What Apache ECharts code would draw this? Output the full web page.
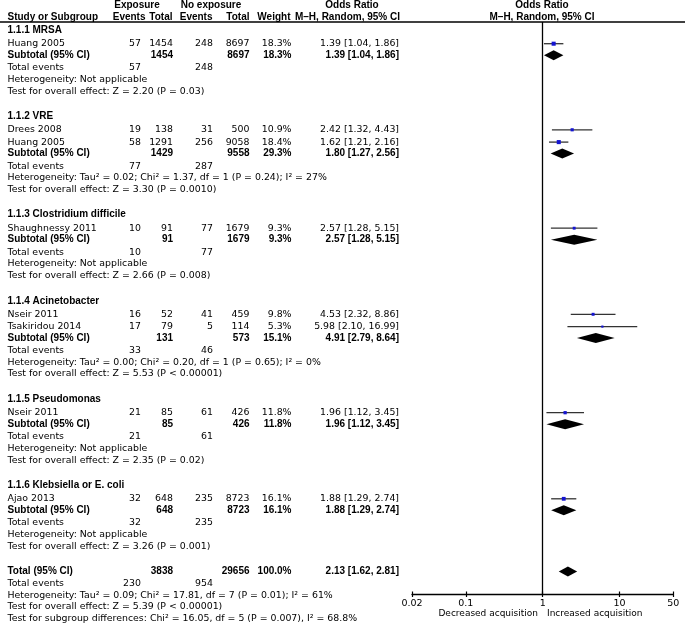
<!DOCTYPE html>
<html>
<head>
<meta charset="utf-8">
<script src="https://cdn.jsdelivr.net/npm/echarts@6/dist/echarts.min.js"></script>
<style>
html,body{margin:0;padding:0;background:#fff;}
#chart{width:685px;height:626px;}
</style>
</head>
<body>
<div id="chart"></div>
<script>
// ---------- DATA ----------
const groupNames = ['1.1.1 MRSA','1.1.2 VRE','1.1.3 Clostridium difficile','1.1.4 Acinetobacter','1.1.5 Pseudomonas','1.1.6 Klebsiella or E. coli'];

const studyNames      = ['Huang 2005','Drees 2008','Huang 2005','Shaughnessy 2011','Nseir 2011','Tsakiridou 2014','Nseir 2011','Ajao 2013'];
const studyGroup      = [0,1,1,2,3,3,4,5];
const studyExpEvents  = [57,19,58,10,16,17,21,32];
const studyExpTotal   = [1454,138,1291,91,52,79,85,648];
const studyCtlEvents  = [248,31,256,77,41,5,61,235];
const studyCtlTotal   = [8697,500,9058,1679,459,114,426,8723];
const studyWeight     = [18.3,10.9,18.4,9.3,9.8,5.3,11.8,16.1];
const studyOR         = [1.39,2.42,1.62,2.57,4.53,5.98,1.96,1.88];
const studyLo         = [1.04,1.32,1.21,1.28,2.32,2.10,1.12,1.29];
const studyHi         = [1.86,4.43,2.16,5.15,8.86,16.99,3.45,2.74];

const subExpEvents = [57,77,10,33,21,32];
const subExpTotal  = [1454,1429,91,131,85,648];
const subCtlEvents = [248,287,77,46,61,235];
const subCtlTotal  = [8697,9558,1679,573,426,8723];
const subWeight    = [18.3,29.3,9.3,15.1,11.8,16.1];
const subOR        = [1.39,1.80,2.57,4.91,1.96,1.88];
const subLo        = [1.04,1.27,1.28,2.79,1.12,1.29];
const subHi        = [1.86,2.56,5.15,8.64,3.45,2.74];
const subHet = ['Not applicable','Tau\u00b2 = 0.02; Chi\u00b2 = 1.37, df = 1 (P = 0.24); I\u00b2 = 27%','Not applicable','Tau\u00b2 = 0.00; Chi\u00b2 = 0.20, df = 1 (P = 0.65); I\u00b2 = 0%','Not applicable','Not applicable'];
const subZ   = ['Z = 2.20 (P = 0.03)','Z = 3.30 (P = 0.0010)','Z = 2.66 (P = 0.008)','Z = 5.53 (P < 0.00001)','Z = 2.35 (P = 0.02)','Z = 3.26 (P = 0.001)'];

const totalExpTotal = 3838, totalCtlTotal = 29656, totalWeight = 100.0;
const totalOR = 2.13, totalLo = 1.62, totalHi = 2.81;
const totalExpEvents = 230, totalCtlEvents = 954;
const totalHet = 'Tau\u00b2 = 0.09; Chi\u00b2 = 17.81, df = 7 (P = 0.01); I\u00b2 = 61%';
const totalZ = 'Z = 5.39 (P < 0.00001)';
const subgroupDiff = 'Chi\u00b2 = 16.05, df = 5 (P = 0.007), I\u00b2 = 68.8%';

const tickValues = [0.02,0.1,1,10,50];
const tickLabels = ['0.02','0.1','1','10','50'];
const leftLabel = 'Decreased acquisition';
const rightLabel = 'Increased acquisition';

// ---------- LAYOUT ----------
const REG_FAMILY = '"DejaVu Sans", Verdana, sans-serif';
const BOLD_FAMILY = '"Liberation Sans", Arial, sans-serif';
const REG = '9.4px ' + REG_FAMILY;
const BOLD = 'bold 10px ' + BOLD_FAMILY;
const SMALL = '9px ' + REG_FAMILY;

const COL_NAME = 7.5, COL_EE = 141, COL_ET = 173, COL_CE = 213, COL_CT = 249.5, COL_W = 291.5, COL_OR = 399;
const PLOT_TOP = 22, AXIS_Y = 594;

const Y_START = 30.2, HDR_TO_STUDY = 13.5, STUDY_PITCH = 12.3, STUDY_TO_SUB = 11.5, SUB_TO_TE = 12.5, LINE = 11.7, SECTION_GAP = 25.2;

const fmt2 = v => v.toFixed(2);
const orText = (o,l,h) => `${fmt2(o)} [${fmt2(l)}, ${fmt2(h)}]`;
const wText = w => w.toFixed(1) + '%';

const texts = [];
function t(x, y, s, align, bold, font){
  const f = font || (bold?BOLD:REG);
  texts.push({type:'text', x:x, y:y, silent:true, style:{text:String(s), font:f, fill:'#000',
    align:align, textAlign:align, verticalAlign:'middle', textVerticalAlign:'middle'}});
}

const studyRows = [];   // [or, lo, hi, y, weight]
const diamondRows = []; // [or, lo, hi, y]

let y = Y_START;
for (let g = 0; g < groupNames.length; g++) {
  t(COL_NAME, y, groupNames[g], 'left', true);
  y += HDR_TO_STUDY;
  const idx = studyGroup.map((gg,i)=>gg===g?i:-1).filter(i=>i>=0);
  idx.forEach((i,k) => {
    if (k>0) y += STUDY_PITCH;
    t(COL_NAME, y, studyNames[i], 'left', false);
    t(COL_EE, y, studyExpEvents[i], 'right', false);
    t(COL_ET, y, studyExpTotal[i], 'right', false);
    t(COL_CE, y, studyCtlEvents[i], 'right', false);
    t(COL_CT, y, studyCtlTotal[i], 'right', false);
    t(COL_W, y, wText(studyWeight[i]), 'right', false);
    t(COL_OR, y, orText(studyOR[i], studyLo[i], studyHi[i]), 'right', false);
    studyRows.push([studyOR[i], studyLo[i], studyHi[i], y, studyWeight[i]]);
  });
  y += STUDY_TO_SUB;
  t(COL_NAME, y, 'Subtotal (95% CI)', 'left', true);
  t(COL_ET, y, subExpTotal[g], 'right', true);
  t(COL_CT, y, subCtlTotal[g], 'right', true);
  t(COL_W, y, wText(subWeight[g]), 'right', true);
  t(COL_OR, y, orText(subOR[g], subLo[g], subHi[g]), 'right', true);
  diamondRows.push([subOR[g], subLo[g], subHi[g], y]);
  y += SUB_TO_TE;
  t(COL_NAME, y, 'Total events', 'left', false);
  t(COL_EE, y, subExpEvents[g], 'right', false);
  t(COL_CE, y, subCtlEvents[g], 'right', false);
  y += LINE;
  t(COL_NAME, y, 'Heterogeneity: ' + subHet[g], 'left', false);
  y += LINE;
  t(COL_NAME, y, 'Test for overall effect: ' + subZ[g], 'left', false);
  y += SECTION_GAP;
}
// overall
t(COL_NAME, y, 'Total (95% CI)', 'left', true);
t(COL_ET, y, totalExpTotal, 'right', true);
t(COL_CT, y, totalCtlTotal, 'right', true);
t(COL_W, y, wText(totalWeight), 'right', true);
t(COL_OR, y, orText(totalOR, totalLo, totalHi), 'right', true);
diamondRows.push([totalOR, totalLo, totalHi, y]);
y += 12.3;
t(COL_NAME, y, 'Total events', 'left', false);
t(COL_EE, y, totalExpEvents, 'right', false);
t(COL_CE, y, totalCtlEvents, 'right', false);
y += 11.6;
t(COL_NAME, y, 'Heterogeneity: ' + totalHet, 'left', false);
y += 11.6;
t(COL_NAME, y, 'Test for overall effect: ' + totalZ, 'left', false);
y += 11.6;
t(COL_NAME, y, 'Test for subgroup differences: ' + subgroupDiff, 'left', false);

// headers
t(137, 5.5, 'Exposure', 'center', true);
t(211, 5.5, 'No exposure', 'center', true);
t(352, 5.5, 'Odds Ratio', 'center', true);
t(542, 5.5, 'Odds Ratio', 'center', true);
t(COL_NAME, 16.8, 'Study or Subgroup', 'left', true);
t(145.5, 16.8, 'Events', 'right', true);
t(172.5, 16.8, 'Total', 'right', true);
t(212.5, 16.8, 'Events', 'right', true);
t(249.5, 16.8, 'Total', 'right', true);
t(290.5, 16.8, 'Weight', 'right', true);
t(400, 16.8, 'M\u2013H, Random, 95% CI', 'right', true);
t(542, 16.8, 'M\u2013H, Random, 95% CI', 'center', true);
// direction labels
t(538, 614, leftLabel, 'right', false, SMALL);
t(547, 614, rightLabel, 'left', false, SMALL);

const graphics = texts.concat([
  {type:'line', silent:true, shape:{x1:0, y1:PLOT_TOP, x2:685, y2:PLOT_TOP}, style:{stroke:'#000', lineWidth:1.5}}
]);

const SQUARE_K = 0.95, DIAMOND_H = 5;

const chart = echarts.init(document.getElementById('chart'), null, {renderer:'canvas'});
chart.setOption({
  animation:false,
  backgroundColor:'#fff',
  grid:{left:412, right:685-673.3, top:PLOT_TOP, bottom:626-AXIS_Y, containLabel:false},
  xAxis:[{
    type:'log', min:0.02, max:50, position:'bottom',
    axisLine:{show:true, lineStyle:{color:'#000', width:1.3}},
    axisTick:{show:true, inside:false, length:3, customValues:tickValues, lineStyle:{color:'#000', width:1.2}},
    axisLabel:{show:true, customValues:tickValues, margin:4.5, color:'#000', fontSize:9.5, fontFamily:REG_FAMILY,
      formatter:function(v){ const i = tickValues.findIndex(tv=>Math.abs(tv-v)/tv<1e-6); return i>=0?tickLabels[i]:''; }},
    splitLine:{show:false}, minorTick:{show:false}
  },{
    type:'log', min:0.02, max:50, position:'bottom',
    axisLine:{show:false},
    axisTick:{show:true, inside:true, length:2.5, customValues:tickValues, lineStyle:{color:'#000', width:1.2}},
    axisLabel:{show:false}, splitLine:{show:false}
  }],
  yAxis:{type:'value', min:PLOT_TOP, max:AXIS_Y, inverse:true, show:false, splitLine:{show:false}},
  graphic:graphics,
  series:[
    {
      type:'custom', name:'studies', xAxisIndex:0, yAxisIndex:0,
      data: studyRows, encode:{x:[0,1,2], y:3}, clip:false,
      renderItem:function(params, api){
        const yv = api.value(3);
        const lo = api.coord([api.value(1), yv]);
        const hi = api.coord([api.value(2), yv]);
        const c = api.coord([api.value(0), yv]);
        const s = SQUARE_K*Math.sqrt(api.value(4));
        return {type:'group', children:[
          {type:'line', shape:{x1:lo[0], y1:lo[1], x2:hi[0], y2:hi[1]}, style:{stroke:'#333', lineWidth:1.3}},
          {type:'rect', shape:{x:c[0]-s/2, y:c[1]-s/2, width:s, height:s}, style:{fill:'#1414d2'}}
        ]};
      },
      markLine:{silent:true, symbol:'none', label:{show:false}, lineStyle:{color:'#000', width:1.3, type:'solid'},
        data:[{xAxis:1}]}
    },
    {
      type:'custom', name:'pooled', xAxisIndex:0, yAxisIndex:0,
      data: diamondRows, encode:{x:[0,1,2], y:3}, clip:false,
      renderItem:function(params, api){
        const yv = api.value(3);
        const lo = api.coord([api.value(1), yv]);
        const hi = api.coord([api.value(2), yv]);
        const c = api.coord([api.value(0), yv]);
        return {type:'polygon', shape:{points:[[lo[0],lo[1]],[c[0],c[1]-DIAMOND_H],[hi[0],hi[1]],[c[0],c[1]+DIAMOND_H]]},
          style:{fill:'#000'}};
      }
    }
  ]
});
</script>
</body>
</html>
